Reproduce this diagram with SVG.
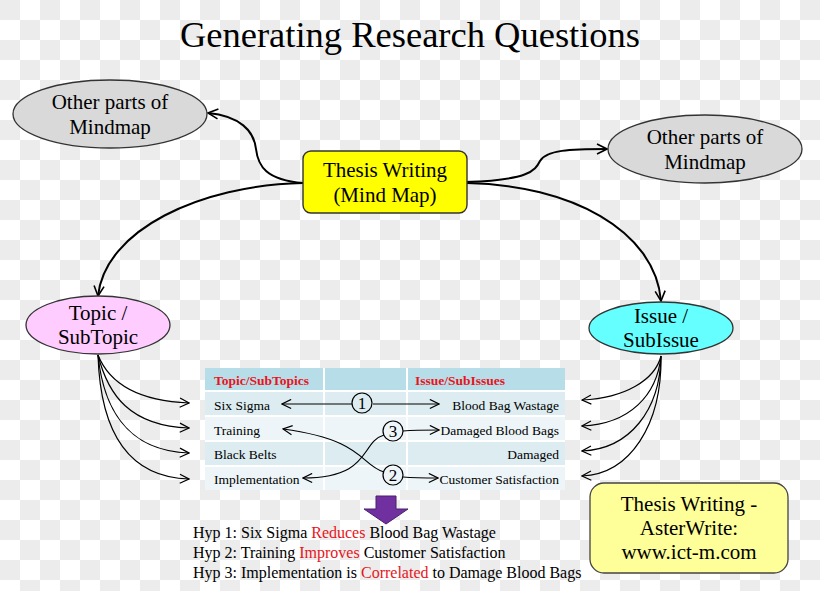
<svg xmlns="http://www.w3.org/2000/svg" width="820" height="591" viewBox="0 0 820 591">
<defs>
<pattern id="checker" x="0" y="0" width="40" height="40" patternUnits="userSpaceOnUse">
<rect width="40" height="40" fill="#ffffff"/>
<rect x="0" y="0" width="20" height="20" fill="#ececec"/>
<rect x="20" y="20" width="20" height="20" fill="#ececec"/>
</pattern>
<marker id="arr" viewBox="0 0 12 12" refX="11" refY="6" markerWidth="12" markerHeight="12" markerUnits="userSpaceOnUse" orient="auto-start-reverse">
<path d="M1,1 L11,6 L1,11" fill="none" stroke="#000" stroke-width="1.6"/>
</marker>
<marker id="arrs" viewBox="0 0 12 12" refX="11" refY="6" markerWidth="11" markerHeight="11" markerUnits="userSpaceOnUse" orient="auto-start-reverse">
<path d="M1,1 L11,6 L1,11" fill="none" stroke="#000" stroke-width="1.3"/>
</marker>
<style>
.t{font-family:"Liberation Serif","Times New Roman",serif;fill:#000;}
.n{font-size:21px;text-anchor:middle;}
.tb{font-size:13.5px;}
.hd{font-size:13.5px;font-weight:bold;fill:#e8141b;}
.hyp{font-size:16px;}
.red{fill:#e8141b;}
.main{fill:none;stroke:#000;stroke-width:2;marker-end:url(#arr);}
.fan{fill:none;stroke:#000;stroke-width:1.2;marker-end:url(#arrs);}
.tab{fill:none;stroke:#000;stroke-width:1.2;marker-end:url(#arrs);}
.ell{stroke:#333;stroke-width:1.3;}
.num{fill:none;stroke:#000;stroke-width:1.2;}
</style>
</defs>
<rect width="820" height="591" fill="url(#checker)"/>

<text class="t" x="410" y="47" font-size="36.5" text-anchor="middle">Generating Research Questions</text>

<g id="connectors">
<path class="main" d="M303 183 C266 180 258 166 256 149 C254 131 240 116 208 113"/>
<path class="main" d="M303 183 C200 185 105 230 98 296"/>
<path class="main" d="M467 182 C528 180 535 171 540 161 C546 150 570 149 607 149"/>
<path class="main" d="M467 183 C570 185 655 230 661 301"/>
<path class="fan" d="M98 355 C110 385 140 401 189 403"/>
<path class="fan" d="M98 355 C108 395 130 426 189 428"/>
<path class="fan" d="M98 355 C103 405 125 451 189 453"/>
<path class="fan" d="M98 355 C100 420 120 477 189 479"/>
<path class="fan" d="M661 356 C655 380 625 398 582 400"/>
<path class="fan" d="M661 356 C657 395 630 424 582 426"/>
<path class="fan" d="M661 356 C660 410 630 449 582 451"/>
<path class="fan" d="M661 356 C662 425 630 474 582 476"/>
</g>

<g id="node-other-left">
<ellipse class="ell" cx="110" cy="114" rx="97" ry="34" fill="#d9d9d9"/>
<text class="t n" x="110" y="109">Other parts of</text>
<text class="t n" x="110" y="134">Mindmap</text>
</g>

<g id="node-other-right">
<ellipse class="ell" cx="705" cy="149" rx="97" ry="34" fill="#d9d9d9"/>
<text class="t n" x="705" y="144">Other parts of</text>
<text class="t n" x="705" y="169">Mindmap</text>
</g>

<g id="node-thesis">
<rect x="303" y="151" width="164" height="62" rx="8" fill="#ffff00" stroke="#333" stroke-width="1.4"/>
<text class="t n" x="385" y="177">Thesis Writing</text>
<text class="t n" x="385" y="202">(Mind Map)</text>
</g>

<g id="node-topic">
<ellipse class="ell" cx="98" cy="325" rx="72" ry="29" fill="#ffccff"/>
<text class="t n" x="98" y="320">Topic /</text>
<text class="t n" x="98" y="344">SubTopic</text>
</g>

<g id="node-issue">
<ellipse class="ell" cx="661" cy="328" rx="72" ry="26" fill="#66ffff"/>
<text class="t n" x="661" y="323">Issue /</text>
<text class="t n" x="661" y="347">SubIssue</text>
</g>

<g id="table">
<rect x="205" y="368" width="360" height="122" fill="#ffffff"/>
<rect x="205" y="368" width="118" height="22" fill="#b7dde8"/>
<rect x="325" y="368" width="81" height="22" fill="#b7dde8"/>
<rect x="408" y="368" width="157" height="22" fill="#b7dde8"/>
<g fill="#dcecf1">
<rect x="205" y="392" width="118" height="23"/><rect x="325" y="392" width="81" height="23"/><rect x="408" y="392" width="157" height="23"/>
<rect x="205" y="442" width="118" height="23"/><rect x="325" y="442" width="81" height="23"/><rect x="408" y="442" width="157" height="23"/>
</g>
<g fill="#edf5f8">
<rect x="205" y="417" width="118" height="23"/><rect x="325" y="417" width="81" height="23"/><rect x="408" y="417" width="157" height="23"/>
<rect x="205" y="467" width="118" height="23"/><rect x="325" y="467" width="81" height="23"/><rect x="408" y="467" width="157" height="23"/>
</g>
<text class="t hd" x="214" y="385">Topic/SubTopics</text>
<text class="t hd" x="415" y="385">Issue/SubIssues</text>
<text class="t tb" x="214" y="410">Six Sigma</text>
<text class="t tb" x="214" y="435">Training</text>
<text class="t tb" x="214" y="459">Black Belts</text>
<text class="t tb" x="214" y="484">Implementation</text>
<text class="t tb" x="559" y="410" text-anchor="end">Blood Bag Wastage</text>
<text class="t tb" x="559" y="435" text-anchor="end">Damaged Blood Bags</text>
<text class="t tb" x="559" y="459" text-anchor="end">Damaged</text>
<text class="t tb" x="559" y="484" text-anchor="end">Customer Satisfaction</text>
</g>

<g id="table-links">
<path class="tab" d="M352 404 L282 404"/>
<path class="tab" d="M373 404 L439 404"/>
<path class="tab" d="M403 431 C415 430 425 430 439 430"/>
<path class="tab" d="M403 477 C415 478 425 478 438 478"/>
<path class="tab" d="M384 472 C360 465 365 440 283 429"/>
<path class="tab" d="M384 435 C360 442 372 478 303 478"/>
<circle class="num" cx="362" cy="403" r="10"/>
<circle class="num" cx="393" cy="431" r="10"/>
<circle class="num" cx="393" cy="475" r="10"/>
<text class="t" x="362" y="409" font-size="17" text-anchor="middle">1</text>
<text class="t" x="393" y="437" font-size="17" text-anchor="middle">3</text>
<text class="t" x="393" y="481" font-size="17" text-anchor="middle">2</text>
</g>

<g id="down-arrow">
<path d="M376 496 L396 496 L396 509 L408 509 L386 524 L364 509 L376 509 Z" fill="#7030a0" stroke="#4b1f6f" stroke-width="1"/>
</g>

<g id="hypotheses">
<text class="t hyp" x="193" y="538">Hyp 1: Six Sigma <tspan class="red">Reduces</tspan> Blood Bag Wastage</text>
<text class="t hyp" x="193" y="558">Hyp 2: Training <tspan class="red">Improves</tspan> Customer Satisfaction</text>
<text class="t hyp" x="193" y="578">Hyp 3: Implementation is <tspan class="red">Correlated</tspan> to Damage Blood Bags</text>
</g>

<g id="node-asterwrite">
<rect x="590" y="483" width="198" height="90" rx="14" fill="#ffff99" stroke="#444" stroke-width="1.3"/>
<text class="t n" x="689" y="511">Thesis Writing -</text>
<text class="t n" x="689" y="535">AsterWrite:</text>
<text class="t n" x="689" y="559">www.ict-m.com</text>
</g>
</svg>
